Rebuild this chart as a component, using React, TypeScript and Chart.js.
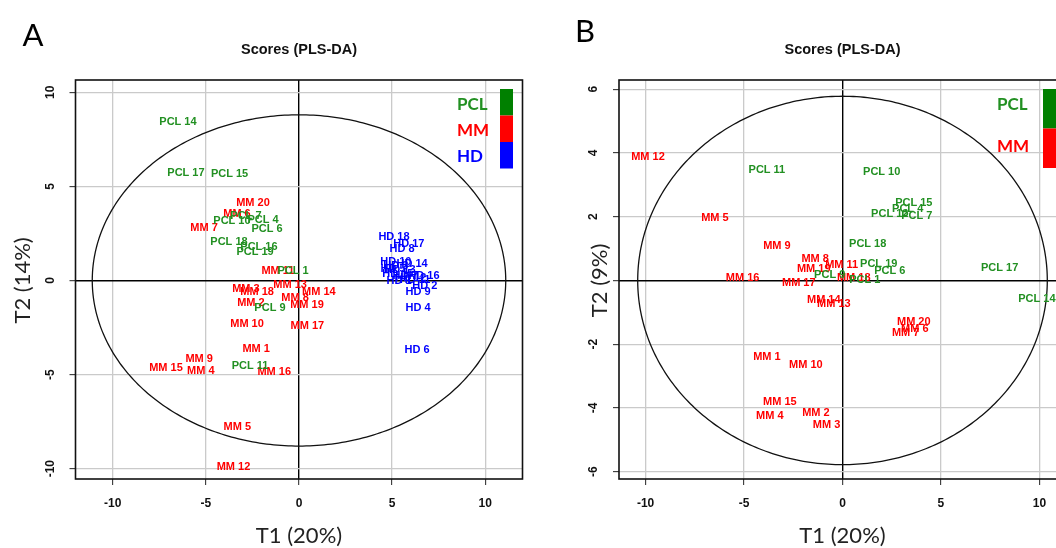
import React, { useEffect, useRef } from 'react';
import { Chart, registerables } from 'chart.js';

Chart.register(...registerables);

// ---------- Panel A data ----------
const A_PCL_LABELS = ['PCL 14', 'PCL 17', 'PCL 15', 'PCL 10', 'PCL 7', 'PCL 4', 'PCL 6', 'PCL 18', 'PCL 16', 'PCL 19', 'PCL 1', 'PCL 9', 'PCL 11'];
const A_PCL_X = [-6.5, -6.07, -3.73, -3.6, -2.85, -1.93, -1.72, -3.76, -2.15, -2.36, -0.32, -1.56, -2.63];
const A_PCL_Y = [8.43, 5.72, 5.66, 3.16, 3.45, 3.22, 2.74, 2.05, 1.78, 1.52, 0.5, -1.46, -4.55];

const A_MM_LABELS = ['MM 20', 'MM 6', 'MM 7', 'MM 11', 'MM 13', 'MM 3', 'MM 18', 'MM 14', 'MM 8', 'MM 19', 'MM 2', 'MM 10', 'MM 17', 'MM 1', 'MM 9', 'MM 15', 'MM 4', 'MM 16', 'MM 5', 'MM 12'];
const A_MM_X = [-2.47, -3.33, -5.1, -1.13, -0.48, -2.85, -2.25, 1.07, -0.21, 0.43, -2.58, -2.79, 0.45, -2.3, -5.36, -7.14, -5.27, -1.33, -3.31, -3.52];
const A_MM_Y = [4.12, 3.54, 2.79, 0.5, -0.24, -0.45, -0.61, -0.61, -0.93, -1.3, -1.2, -2.31, -2.42, -3.64, -4.18, -4.65, -4.81, -4.87, -7.8, -9.92];

const A_HD_LABELS = ['HD 18', 'HD 17', 'HD 8', 'HD 10', 'HD 14', 'HD 5', 'HD 3', 'HD 13', 'HD 15', 'HD 16', 'HD 7', 'HD 12', 'HD 1', 'HD 11', 'HD 2', 'HD 9', 'HD 4', 'HD 6'];
const A_HD_X = [5.1, 5.9, 5.53, 5.2, 6.07, 5.05, 5.2, 5.42, 5.31, 6.71, 5.69, 6.0, 5.37, 6.23, 6.76, 6.39, 6.39, 6.34];
const A_HD_Y = [2.3, 1.94, 1.67, 0.98, 0.88, 0.61, 0.77, 0.56, 0.35, 0.24, 0.24, 0.13, -0.03, 0.03, -0.29, -0.61, -1.46, -3.7];

const A_X_TICKS = [-10, -5, 0, 5, 10];
const A_Y_TICKS = [-10, -5, 0, 5, 10];
const A_X_RANGE = [-12, 12];
const A_Y_RANGE = [-10.55, 10.65];
const A_ELLIPSE = [11.1, 8.8];

// ---------- Panel B data ----------
const B_PCL_LABELS = ['PCL 11', 'PCL 10', 'PCL 15', 'PCL 4', 'PCL 12', 'PCL 7', 'PCL 18', 'PCL 19', 'PCL 6', 'PCL 9', 'PCL 1', 'PCL 17', 'PCL 14'];
const B_PCL_X = [-3.84, 1.99, 3.62, 3.31, 2.4, 3.77, 1.28, 1.84, 2.4, -0.65, 1.13, 7.98, 9.87];
const B_PCL_Y = [3.47, 3.4, 2.43, 2.24, 2.09, 2.02, 1.15, 0.52, 0.3, 0.17, 0.02, 0.39, -0.58];

const B_MM_LABELS = ['MM 12', 'MM 5', 'MM 9', 'MM 8', 'MM 11', 'MM 19', 'MM 16', 'MM 17', 'MM 18', 'MM 14', 'MM 13', 'MM 20', 'MM 6', 'MM 7', 'MM 1', 'MM 10', 'MM 15', 'MM 4', 'MM 2', 'MM 3'];
const B_MM_X = [-9.88, -6.48, -3.33, -1.39, -0.04, -1.46, -5.07, -2.22, 0.57, -0.95, -0.44, 3.62, 3.67, 3.21, -3.84, -1.86, -3.18, -3.69, -1.35, -0.81];
const B_MM_Y = [3.88, 1.96, 1.08, 0.67, 0.49, 0.36, 0.08, -0.08, 0.08, -0.61, -0.74, -1.3, -1.52, -1.65, -2.41, -2.65, -3.81, -4.25, -4.16, -4.53];

const B_X_TICKS = [-10, -5, 0, 5, 10];
const B_Y_TICKS = [-6, -4, -2, 0, 2, 4, 6];
const B_X_RANGE = [-11.35, 11.35];
const B_Y_RANGE = [-6.23, 6.29];
const B_ELLIPSE = [10.4, 5.78];

// ---------- colours ----------
const GREEN_TEXT = '#229022';
const GREEN_BAR = '#008000';
const RED = '#ff0000';
const BLUE = '#0000ff';

const TICK_FONT = 'bold 12px Arial, "Liberation Sans", sans-serif';
const LABEL_FONT = 'bold 11px Arial, "Liberation Sans", sans-serif';
const TITLE_FONT = 'bold 14.5px Arial, "Liberation Sans", sans-serif';
const AXIS_TITLE_FONT = '22px Lato, "Open Sans", sans-serif';
const LEGEND_FONT = 'bold 17px Lato, "Open Sans", sans-serif';
const LETTER_FONT = '31px Lato, "Open Sans", sans-serif';

function series(labels: string[], xs: number[], ys: number[], color: string) {
  return {
    data: labels.map((l, i) => ({ x: xs[i], y: ys[i], label: l })),
    backgroundColor: color,
    borderColor: color,
    pointRadius: 0,
    pointHoverRadius: 0,
  };
}

function makePlugin(cfg: any) {
  return {
    id: 'plsdaDecor',
    beforeDatasetsDraw(chart: any) {
      const { ctx, chartArea: ca, scales } = chart;
      const x = scales.x;
      const y = scales.y;
      ctx.save();
      ctx.beginPath();
      ctx.rect(ca.left, ca.top, ca.right - ca.left, ca.bottom - ca.top);
      ctx.clip();
      ctx.beginPath();
      const n = 360;
      for (let i = 0; i <= n; i++) {
        const t = (i / n) * 2 * Math.PI;
        const px = x.getPixelForValue(cfg.ellipse[0] * Math.cos(t));
        const py = y.getPixelForValue(cfg.ellipse[1] * Math.sin(t));
        if (i === 0) ctx.moveTo(px, py);
        else ctx.lineTo(px, py);
      }
      ctx.closePath();
      ctx.strokeStyle = '#111';
      ctx.lineWidth = 1.3;
      ctx.stroke();
      ctx.restore();
    },
    afterDatasetsDraw(chart: any) {
      const { ctx, chartArea: ca } = chart;
      ctx.save();
      ctx.beginPath();
      ctx.rect(ca.left, ca.top, ca.right - ca.left, ca.bottom - ca.top);
      ctx.clip();
      ctx.font = LABEL_FONT;
      ctx.textAlign = 'center';
      ctx.textBaseline = 'middle';
      chart.data.datasets.forEach((ds: any, di: number) => {
        const meta = chart.getDatasetMeta(di);
        ctx.fillStyle = ds.borderColor;
        meta.data.forEach((el: any, j: number) => {
          ctx.fillText(ds.data[j].label, el.x, el.y);
        });
      });
      ctx.restore();
    },
    afterDraw(chart: any) {
      const { ctx, chartArea: ca, scales } = chart;
      const x = scales.x;
      const y = scales.y;
      ctx.save();
      // box
      ctx.strokeStyle = '#111';
      ctx.lineWidth = 1.6;
      ctx.strokeRect(ca.left, ca.top, ca.right - ca.left, ca.bottom - ca.top);

      // legend
      const lg = cfg.legend;
      lg.items.forEach((it: any, i: number) => {
        ctx.fillStyle = it.bar;
        ctx.fillRect(ca.right - lg.barLeft, ca.top + lg.top + i * lg.segH, lg.barW, lg.segH);
        ctx.fillStyle = it.color;
        ctx.font = LEGEND_FONT;
        ctx.textAlign = 'left';
        ctx.textBaseline = 'middle';
        ctx.fillText(it.label, ca.right - lg.textLeft, ca.top + lg.textY0 + i * lg.textDy);
      });

      // tick labels
      ctx.fillStyle = '#111';
      ctx.font = TICK_FONT;
      ctx.textAlign = 'center';
      ctx.textBaseline = 'middle';
      cfg.xTicks.forEach((v: number) => {
        ctx.fillText(String(v), x.getPixelForValue(v), ca.bottom + 24.5);
      });
      cfg.yTicks.forEach((v: number) => {
        ctx.save();
        ctx.translate(ca.left - 25, y.getPixelForValue(v));
        ctx.rotate(-Math.PI / 2);
        ctx.fillText(String(v), 0, 0);
        ctx.restore();
      });

      // main title
      const cx = (ca.left + ca.right) / 2;
      ctx.font = TITLE_FONT;
      ctx.fillStyle = '#111';
      ctx.fillText(cfg.title, cx, 50);

      // x axis title
      ctx.font = AXIS_TITLE_FONT;
      ctx.fillStyle = '#222';
      ctx.fillText(cfg.xTitle, x.getPixelForValue(0), 536);

      // y axis title (with white backing, as in the source figure)
      ctx.save();
      ctx.translate(cfg.yTitleX, y.getPixelForValue(0));
      ctx.rotate(-Math.PI / 2);
      const w = ctx.measureText(cfg.yTitle).width;
      if (cfg.yTitleBg) {
        ctx.fillStyle = '#fff';
        ctx.fillRect(-w / 2 - 3, -13, w + 6, 26);
      }
      ctx.fillStyle = '#222';
      ctx.fillText(cfg.yTitle, 0, 0);
      ctx.restore();

      // panel letter
      ctx.font = LETTER_FONT;
      ctx.fillStyle = '#000';
      ctx.fillText(cfg.letter, cfg.letterPos[0], cfg.letterPos[1]);
      ctx.restore();
    },
  };
}

function axis(range: number[], ticks: number[], horizontal: boolean) {
  return {
    type: 'linear',
    min: range[0],
    max: range[1],
    afterBuildTicks: (s: any) => {
      s.ticks = ticks.map((v) => ({ value: v }));
    },
    afterFit: (s: any) => {
      if (horizontal) s.height = 20;
      else s.width = 20;
    },
    ticks: { display: false },
    border: { display: false },
    grid: {
      color: (c: any) => (c.tick && c.tick.value === 0 ? '#000' : '#cacaca'),
      lineWidth: (c: any) => (c.tick && c.tick.value === 0 ? 1.4 : 1.3),
      drawTicks: true,
      tickLength: 6,
      tickColor: '#222',
      tickWidth: 1,
    },
  };
}

function Panel({ cfg }: { cfg: any }) {
  const ref = useRef<HTMLCanvasElement>(null);
  useEffect(() => {
    if (!ref.current) return;
    const chart = new Chart(ref.current, {
      type: 'scatter',
      data: { datasets: cfg.datasets },
      options: {
        responsive: false,
        animation: false,
        devicePixelRatio: 1,
        events: [],
        layout: { padding: cfg.padding },
        plugins: {
          legend: { display: false },
          title: { display: false },
          tooltip: { enabled: false },
        },
        scales: {
          x: axis(cfg.xRange, cfg.xTicks, true),
          y: axis(cfg.yRange, cfg.yTicks, false),
        },
      } as any,
      plugins: [makePlugin(cfg)],
    });
    return () => chart.destroy();
  }, []);
  return (
    <canvas
      ref={ref}
      width={cfg.width}
      height={548}
      style={{ position: 'absolute', left: cfg.left, top: 0, width: cfg.width, height: 548 }}
    />
  );
}

const panelA = {
  left: 0,
  width: 535,
  padding: { left: 55.5, right: 12.5, top: 80, bottom: 49 },
  xRange: A_X_RANGE,
  yRange: A_Y_RANGE,
  xTicks: A_X_TICKS,
  yTicks: A_Y_TICKS,
  ellipse: A_ELLIPSE,
  title: 'Scores (PLS-DA)',
  xTitle: 'T1 (20%)',
  yTitle: 'T2 (14%)',
  yTitleX: 23,
  yTitleBg: false,
  letter: 'A',
  letterPos: [33, 36],
  legend: {
    items: [
      { label: 'PCL', color: GREEN_TEXT, bar: GREEN_BAR },
      { label: 'MM', color: RED, bar: RED },
      { label: 'HD', color: BLUE, bar: BLUE },
    ],
    barLeft: 22.5,
    barW: 13,
    top: 9,
    segH: 26.5,
    textLeft: 65.5,
    textY0: 25,
    textDy: 26,
  },
  datasets: [
    series(A_MM_LABELS, A_MM_X, A_MM_Y, RED),
    series(A_PCL_LABELS, A_PCL_X, A_PCL_Y, GREEN_TEXT),
    series(A_HD_LABELS, A_HD_X, A_HD_Y, BLUE),
  ],
};

const panelB = {
  left: 535,
  width: 545,
  padding: { left: 64, right: 14, top: 80, bottom: 49 },
  xRange: B_X_RANGE,
  yRange: B_Y_RANGE,
  xTicks: B_X_TICKS,
  yTicks: B_Y_TICKS,
  ellipse: B_ELLIPSE,
  title: 'Scores (PLS-DA)',
  xTitle: 'T1 (20%)',
  yTitle: 'T2 (9%)',
  yTitleX: 65,
  yTitleBg: true,
  letter: 'B',
  letterPos: [50, 32],
  legend: {
    items: [
      { label: 'PCL', color: GREEN_TEXT, bar: GREEN_BAR },
      { label: 'MM', color: RED, bar: RED },
    ],
    barLeft: 23,
    barW: 13,
    top: 9,
    segH: 39.5,
    textLeft: 69,
    textY0: 25,
    textDy: 42,
  },
  datasets: [
    series(B_MM_LABELS, B_MM_X, B_MM_Y, RED),
    series(B_PCL_LABELS, B_PCL_X, B_PCL_Y, GREEN_TEXT),
  ],
};

export default function App() {
  return (
    <div
      style={{
        position: 'fixed',
        left: 0,
        top: 0,
        width: 1056,
        height: 548,
        overflow: 'hidden',
        background: '#fff',
      }}
    >
      <Panel cfg={panelA} />
      <Panel cfg={panelB} />
    </div>
  );
}
